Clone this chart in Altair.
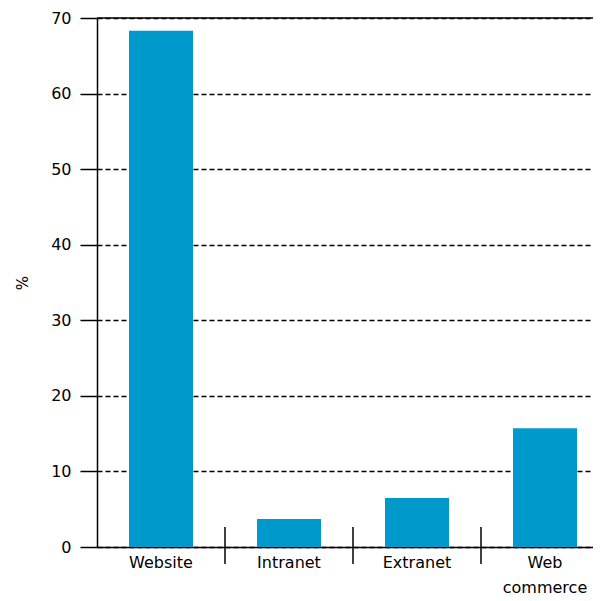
import altair as alt
import pandas as pd

categories = ["Website", "Intranet", "Extranet", "Web commerce"]
values = [68.3, 3.7, 6.5, 15.7]
y_ticks = [0, 10, 20, 30, 40, 50, 60, 70]
separators = ["Intranet", "Extranet", "Web commerce"]
top_value = [70]

df = pd.DataFrame({"category": categories, "value": values})
sep_df = pd.DataFrame({"category": separators})
top_df = pd.DataFrame({"top": top_value})

FONT = "DejaVu Sans"

xscale = alt.Scale(domain=categories, range=[0, 512], paddingInner=0, paddingOuter=0)
yscale = alt.Scale(domain=[0, 70], nice=False)

bars = alt.Chart(df).mark_bar(color="#0099CC", width=alt.RelativeBandSize(0.5)).encode(
    x=alt.X(
        "category:N",
        scale=xscale,
        sort=categories,
        axis=alt.Axis(
            title=None,
            labelAngle=0,
            ticks=False,
            grid=False,
            domainColor="black",
            domainWidth=1.5,
            labelFont=FONT,
            labelFontSize=16,
            labelColor="black",
            labelPadding=7,
            labelLineHeight=25,
            labelExpr="datum.value == 'Web commerce' ? ['Web', 'commerce'] : datum.label",
        ),
    ),
    y=alt.Y(
        "value:Q",
        scale=yscale,
        axis=alt.Axis(
            title="%",
            values=y_ticks,
            grid=True,
            gridColor="black",
            gridDash=[5, 3],
            gridWidth=1.3,
            gridOpacity=1,
            domainColor="black",
            domainWidth=1.5,
            tickColor="black",
            tickWidth=1.5,
            tickSize=17,
            labelFont=FONT,
            labelFontSize=16,
            labelColor="black",
            labelPadding=9,
            titleFont=FONT,
            titleFontSize=15,
            titleFontWeight="normal",
            titleColor="black",
            titlePadding=20,
        ),
    ),
)

top_rule = alt.Chart(top_df).mark_rule(color="black", strokeWidth=1.5).encode(
    y=alt.Y("top:Q", scale=yscale)
)

seps = alt.Chart(sep_df).mark_rule(color="black", strokeWidth=1.5).encode(
    x=alt.X("category:N", scale=xscale, bandPosition=0),
    y=alt.value(509),
    y2=alt.value(546),
)

chart = alt.layer(bars, top_rule, seps).properties(
    width=496,
    height=529,
    autosize=alt.AutoSizeParams(type="none"),
    padding={"left": 89, "top": 10, "right": 0, "bottom": 52},
).configure_view(strokeWidth=0)

chart.save("out.html", embed_options={"renderer": "svg", "actions": False})
